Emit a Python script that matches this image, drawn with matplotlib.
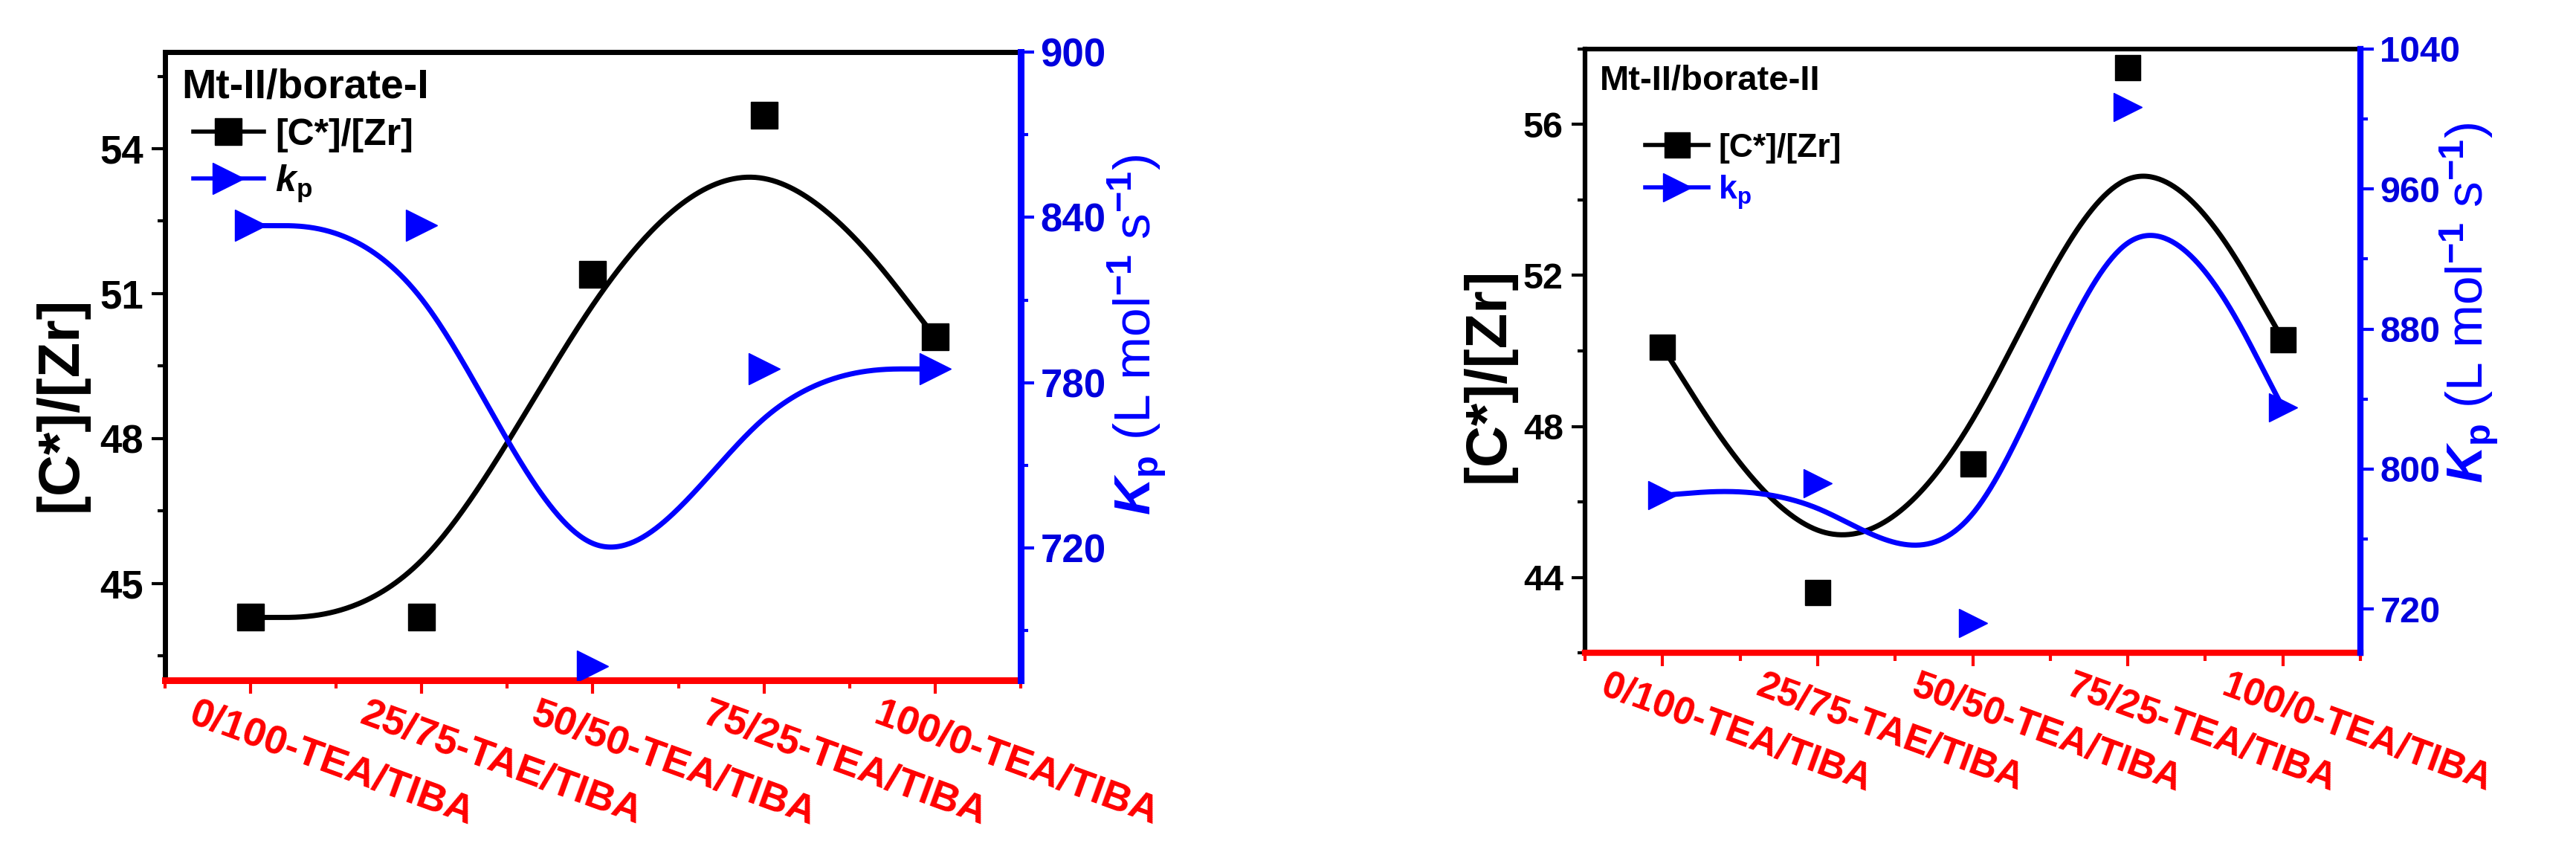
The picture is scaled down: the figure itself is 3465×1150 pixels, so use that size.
import numpy as np
import matplotlib
matplotlib.use("Agg")
import matplotlib.pyplot as plt
from matplotlib.lines import Line2D
from matplotlib.transforms import ScaledTranslation

plt.rcParams['font.family'] = ['Liberation Sans', 'DejaVu Sans']
plt.rcParams['font.weight'] = 'bold'
plt.rcParams['mathtext.fontset'] = 'custom'
plt.rcParams['mathtext.rm'] = 'Liberation Sans:bold'
plt.rcParams['mathtext.bf'] = 'Liberation Sans:bold'
plt.rcParams['mathtext.it'] = 'Liberation Sans:italic:bold'
plt.rcParams['mathtext.bfit'] = 'Liberation Sans:italic:bold'

# data
categories = ["0/100-TEA/TIBA", "25/75-TAE/TIBA", "50/50-TEA/TIBA",
              "75/25-TEA/TIBA", "100/0-TEA/TIBA"]
c_zr_borate1 = [44.3, 44.3, 51.4, 54.7, 50.1]
kp_borate1 = [837, 837, 677, 785, 785]
c_zr_borate2 = [50.1, 43.6, 47.0, 57.5, 50.3]
kp_borate2 = [785, 792, 712, 1007, 835]

RED = '#ff0000'
BLUE = '#0000ff'
TICKBLUE = '#0000dd'


def bspline(xs, ys, n=80):
    # uniform cubic B-spline, end points tripled (Origin "B-Spline" connect)
    px = np.r_[xs[0], xs[0], xs, xs[-1], xs[-1]].astype(float)
    py = np.r_[ys[0], ys[0], ys, ys[-1], ys[-1]].astype(float)
    t = np.linspace(0, 1, n)
    b = [(1 - t) ** 3 / 6, (3 * t**3 - 6 * t**2 + 4) / 6,
         (-3 * t**3 + 3 * t**2 + 3 * t + 1) / 6, t**3 / 6]
    ox, oy = [], []
    for i in range(len(px) - 3):
        ox.append(sum(b[j] * px[i + j] for j in range(4)))
        oy.append(sum(b[j] * py[i + j] for j in range(4)))
    return np.concatenate(ox), np.concatenate(oy)


def panel(fig, rect, c_vals, k_vals, cfg):
    x = np.arange(len(categories))
    ax = fig.add_axes(rect)
    ax2 = ax.twinx()

    sx, sy = bspline(x, c_vals)
    ax.plot(sx, sy, color='black', lw=5, zorder=2)
    ax.plot(x, c_vals, ls='none', marker='s', ms=cfg['ms_sq'], color='black', zorder=3)
    kx, ky = bspline(x, k_vals)
    ax2.plot(kx, ky, color=BLUE, lw=5, zorder=2)
    ax2.plot(x, k_vals, ls='none', marker='>', ms=cfg['ms_tri'], color=BLUE, zorder=3)

    ax.set_xlim(-0.5, 4.5)
    ax.set_ylim(*cfg['ylim'])
    ax2.set_ylim(*cfg['ylim2'])
    ax.set_yticks(cfg['yticks'])
    ax.set_yticks(cfg['yminor'], minor=True)
    ax2.set_yticks(cfg['yticks2'])
    ax2.set_yticks(cfg['yminor2'], minor=True)
    ax.set_xticks(x)
    ax.set_xticks(np.arange(-0.5, 5.0, 1.0), minor=True)
    ax.set_xticklabels(categories, rotation=-20, ha='left', va='top',
                       rotation_mode='anchor', fontsize=cfg['xfs'],
                       fontweight='bold', color=RED)

    lw_sp = cfg['spine']
    ax.spines['left'].set_linewidth(lw_sp)
    ax.spines['top'].set_linewidth(lw_sp)
    ax.spines['bottom'].set_linewidth(lw_sp + 1.5)
    ax.spines['bottom'].set_color(RED)
    ax.spines['right'].set_visible(False)
    for s in ['left', 'top', 'bottom']:
        ax2.spines[s].set_visible(False)
    ax2.spines['right'].set_linewidth(lw_sp + 1.5)
    ax2.spines['right'].set_color(BLUE)

    ax.tick_params(axis='x', which='major', direction='out', length=13, width=3,
                   color=RED, pad=2)
    ax.tick_params(axis='x', which='minor', direction='out', length=8, width=3,
                   color=RED)
    ax.tick_params(axis='y', which='major', direction='out', length=13, width=3,
                   labelsize=cfg['yfs'], pad=8)
    ax.tick_params(axis='y', which='minor', direction='out', length=7, width=3)
    ax2.tick_params(axis='y', which='major', direction='out', length=13, width=3,
                    color=BLUE, labelcolor=TICKBLUE, labelsize=cfg['yfs'], pad=6)
    ax2.tick_params(axis='y', which='minor', direction='out', length=7, width=3,
                    color=BLUE)

    off = ScaledTranslation(-0.72, 0, fig.dpi_scale_trans)
    for lab in ax.get_xticklabels():
        lab.set_transform(lab.get_transform() + off)

    ax.set_ylabel('[C*]/[Zr]', fontsize=56, fontweight='bold')
    ax.yaxis.set_label_coords(-0.09, cfg['ylab_y'])
    ax2.set_ylabel(r'$\mathbfit{K}_{\mathbf{p}}$ (L mol$^{\mathbf{-1}}$ s$^{\mathbf{-1}}$)',
                   fontsize=50, color=BLUE)
    ax2.yaxis.set_label_coords(1.10, cfg['ylab2_y'])

    ax.text(0.019, 0.975, cfg['title'], transform=ax.transAxes, ha='left',
            va='top', fontsize=cfg['tfs'], fontweight='bold')
    handles = [Line2D([], [], color='black', lw=4, marker='s', ms=cfg['ms_sq']),
               Line2D([], [], color=BLUE, lw=4, marker='>', ms=cfg['ms_tri'])]
    leg = ax2.legend(handles, ['[C*]/[Zr]', cfg['kp_label']], loc='upper left',
                     bbox_to_anchor=cfg['leg_xy'], frameon=False,
                     fontsize=cfg['lfs'], handlelength=1.9, handletextpad=0.3,
                     borderaxespad=0, borderpad=0, labelspacing=0.3)
    for txt in leg.get_texts():
        txt.set_fontweight('bold')
    leg.get_texts()[1].set_color(cfg['kp_color'])
    return ax, ax2


fig = plt.figure(figsize=(34.66, 11.5), dpi=100)

panel(fig, [0.06405, 0.20435, 0.33208, 0.73478], c_zr_borate1, kp_borate1, dict(
    ylim=(43, 56), ylim2=(672, 900),
    yticks=[45, 48, 51, 54], yminor=[43.5, 46.5, 49.5, 52.5, 55.5],
    yticks2=[720, 780, 840, 900], yminor2=[690, 750, 810, 870],
    xfs=39, yfs=38, tfs=40, lfs=36, spine=5,
    ms_sq=26, ms_tri=30, ylab_y=0.44, ylab2_y=0.55,
    title='Mt-II/borate-I', kp_label=r'$\mathbfit{k}_{\mathbf{p}}$',
    kp_color='black', leg_xy=(0.033, 0.895)))

panel(fig, [0.61512, 0.23652, 0.30092, 0.70609], c_zr_borate2, kp_borate2, dict(
    ylim=(42, 58), ylim2=(695, 1040),
    yticks=[44, 48, 52, 56], yminor=[42, 46, 50, 54, 58],
    yticks2=[720, 800, 880, 960, 1040], yminor2=[760, 840, 920, 1000],
    xfs=37, yfs=35, tfs=34, lfs=32, spine=4.5,
    ms_sq=24, ms_tri=28, ylab_y=0.46, ylab2_y=0.58,
    title='Mt-II/borate-II', kp_label=r'k$_{\mathbf{p}}$',
    kp_color=BLUE, leg_xy=(0.078, 0.861)))

fig.savefig('out.png', dpi=100)
